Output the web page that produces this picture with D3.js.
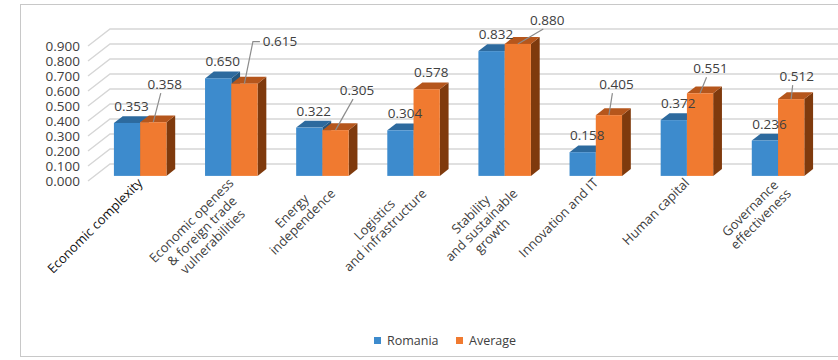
<!DOCTYPE html>
<html>
<head>
<meta charset="utf-8">
<script src="https://cdn.jsdelivr.net/npm/d3@7"></script>
<style>
  body { margin: 0; background: #fff; }
  svg { display: block; font-family: "Open Sans", sans-serif; }
</style>
</head>
<body>
<script>
// data
const categories = [
  ["Economic complexity"],
  ["Economic openess", "& foreign trade", "vulnerabilities"],
  ["Energy", "independence"],
  ["Logistics", "and infrastructure"],
  ["Stability", "and sustainable", "growth"],
  ["Innovation and IT"],
  ["Human capital"],
  ["Governance", "effectiveness"]
];
const seriesNames = ["Romania", "Average"];
const romania = [0.353, 0.650, 0.322, 0.304, 0.832, 0.158, 0.372, 0.236];
const average = [0.358, 0.615, 0.305, 0.578, 0.880, 0.405, 0.551, 0.512];
const yTicks = [0, 0.1, 0.2, 0.3, 0.4, 0.5, 0.6, 0.7, 0.8, 0.9];

// where the "Average" labels were dragged to (px, from the default spot)
const avgLabelShift = [[7, -21], [31, -26], [17, -23], [0, 0], [25, -7], [3, -14], [6, -8], [1, -6]];

const width = 838, height = 360;
const floorY = 181;             // front edge of the floor
const depth = { x: 22, y: -17 }; // full depth of the 3D box
const d0 = 0.3, d1 = 0.7;        // bars sit between these depths

const colors = {
  Romania: { front: "#3d8bcd", top: "#2d6a9e", side: "#24577f" },
  Average: { front: "#f07a30", top: "#b5561c", side: "#7f3a0d" }
};

const svg = d3.select("body").append("svg")
  .attr("width", width)
  .attr("height", height);

// chart border
svg.append("rect")
  .attr("x", 20.5).attr("y", 4.5)
  .attr("width", 840).attr("height", 352)
  .attr("fill", "none")
  .attr("stroke", "#c8c8c8");

const x = d3.scaleBand()
  .domain(d3.range(categories.length))
  .range([88, 817])
  .paddingInner(0.424)
  .paddingOuter(0.212);

const xs = d3.scaleBand()
  .domain(seriesNames)
  .range([0, x.bandwidth()]);

const y = d3.scaleLinear()
  .domain([0, 0.9])
  .range([floorY, floorY - 135]);

// gridlines: side wall + back wall
svg.append("g")
  .selectAll("polyline")
  .data(yTicks)
  .join("polyline")
  .attr("points", d => [
    [88, y(d)],
    [88 + depth.x, y(d) + depth.y],
    [width + 5, y(d) + depth.y]
  ].join(" "))
  .attr("fill", "none")
  .attr("stroke", "#d6d6d6")
  .attr("stroke-width", 1.4);

// y tick labels
svg.append("g")
  .selectAll("text")
  .data(yTicks)
  .join("text")
  .attr("x", 80)
  .attr("y", d => y(d))
  .attr("dy", "0.36em")
  .attr("text-anchor", "end")
  .style("font-size", "13.5px")
  .style("fill", "#404040")
  .text(d => d.toFixed(3));

// bars
const bars = [];
categories.forEach((c, i) => {
  seriesNames.forEach((s, j) => {
    const v = j === 0 ? romania[i] : average[i];
    bars.push({ i, s, v });
  });
});

const fx = d3.scaleLinear().domain([0, 1]).range([0, depth.x]);
const fy = d3.scaleLinear().domain([0, 1]).range([0, depth.y]);

const barG = svg.append("g")
  .selectAll("g")
  .data(bars)
  .join("g");

barG.each(function (d) {
  const g = d3.select(this);
  const bx = x(d.i) + xs(d.s);
  const w = xs.bandwidth();
  const top = y(d.v), base = y(0);
  const ax = fx(d0), ay = fy(d0), bxx = fx(d1), byy = fy(d1);
  const col = colors[d.s];
  // side
  g.append("polygon")
    .attr("points", [
      [bx + w + ax, top + ay], [bx + w + bxx, top + byy],
      [bx + w + bxx, base + byy], [bx + w + ax, base + ay]
    ].join(" "))
    .attr("fill", col.side);
  // top
  g.append("polygon")
    .attr("points", [
      [bx + ax, top + ay], [bx + w + ax, top + ay],
      [bx + w + bxx, top + byy], [bx + bxx, top + byy]
    ].join(" "))
    .attr("fill", col.top);
  // front
  g.append("rect")
    .attr("x", bx + ax)
    .attr("y", top + ay)
    .attr("width", w)
    .attr("height", base - top)
    .attr("fill", col.front);
});

// data labels
const labelG = svg.append("g")
  .style("font-size", "13.5px")
  .style("fill", "#404040");

bars.forEach(d => {
  const w = xs.bandwidth();
  const cx = x(d.i) + xs(d.s) + w / 2 + fx(d0);
  const topY = y(d.v) + fy(d0);
  let lx = cx + 4.5, ly = topY - 12;
  if (d.s === "Average") {
    const [sx, sy] = avgLabelShift[d.i];
    lx += sx; ly += sy;
    if (sx !== 0 || sy !== 0) {
      let pts;
      if (sx > 28) {
        const tl = lx - 18;
        pts = [[tl - 2, ly - 4], [tl - 9, ly - 4], [cx, topY]];
      } else {
        pts = [[lx - 4, ly + 4], [cx, topY]];
      }
      labelG.append("polyline")
        .attr("points", pts.join(" "))
        .attr("fill", "none")
        .attr("stroke", "#8c8c8c")
        .attr("stroke-width", 1.2);
    }
  }
  labelG.append("text")
    .attr("x", lx)
    .attr("y", ly)
    .attr("text-anchor", "middle")
    .text(d.v.toFixed(3));
});

// category labels, rotated -45
const lh = 15;
const catG = svg.append("g")
  .selectAll("g")
  .data(categories)
  .join("g")
  .attr("transform", (d, i) => `translate(${x(i) + x.bandwidth() / 2 + 2},176) rotate(-45)`)
  .style("font-size", "13px")
  .style("fill", (d, i) => i === 0 ? "#111" : "#404040");

catG.each(function (lines) {
  const g = d3.select(this);
  const texts = g.selectAll("text")
    .data(lines)
    .join("text")
    .attr("y", (l, k) => k * lh + 11)
    .attr("text-anchor", "middle")
    .text(l => l);
  const wMax = d3.max(texts.nodes(), n => n.getComputedTextLength());
  texts.attr("x", -wMax / 2);
});

// legend
const legend = svg.append("g")
  .style("font-size", "12.5px")
  .style("fill", "#404040");
const legendX = [374, 456];
seriesNames.forEach((s, j) => {
  legend.append("rect")
    .attr("x", legendX[j]).attr("y", 337)
    .attr("width", 7).attr("height", 7)
    .attr("fill", colors[s].front);
  legend.append("text")
    .attr("x", legendX[j] + 13)
    .attr("y", 345)
    .text(s);
});
</script>
</body>
</html>
